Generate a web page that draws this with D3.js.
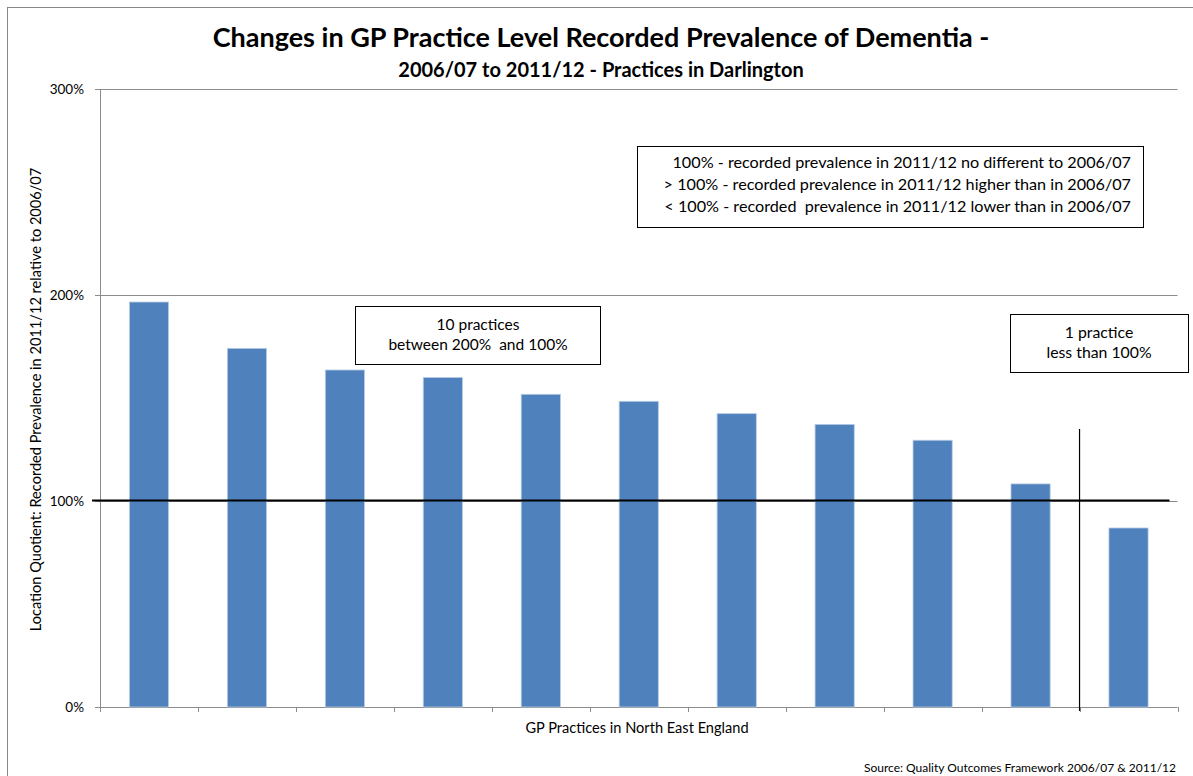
<!DOCTYPE html>
<html>
<head>
<meta charset="utf-8">
<script src="https://cdn.jsdelivr.net/npm/d3@7"></script>
<style>
  body { margin: 0; background: #fff; }
  svg text { font-family: Lato, "Open Sans", sans-serif; fill: #000; }
</style>
</head>
<body>
<div class="chart"></div>
<script>
// practices in Darlington, sorted by change (% of 2006/07)
var practices = ['P1', 'P2', 'P3', 'P4', 'P5', 'P6', 'P7', 'P8', 'P9', 'P10', 'P11'];
var quotients = [196.6, 174.1, 163.6, 160.0, 151.8, 148.4, 142.4, 137.2, 129.5, 108.3, 86.9];
var yTicks = [0, 100, 200, 300];
var legendLines = [
  '100% - recorded prevalence in 2011/12 no different to 2006/07',
  '> 100% - recorded prevalence in 2011/12 higher than in 2006/07',
  '< 100% - recorded  prevalence in 2011/12 lower than in 2006/07'
];

var W = 1193, H = 776;
var margin = {top: 89, right: 15.5, bottom: 69, left: 100},
    width = W - margin.left - margin.right,
    height = H - margin.top - margin.bottom;

var svg = d3.select('.chart')
  .append('svg')
    .attr('width', W)
    .attr('height', H);

// outer chart frame
svg.append('rect')
    .attr('x', 7.5).attr('y', 7.5)
    .attr('width', 1200).attr('height', 800)
    .attr('fill', 'none')
    .attr('stroke', '#888');

var x = d3.scaleBand()
    .domain(practices)
    .range([0, width])
    .paddingInner(0.6)
    .paddingOuter(0.3);

var y = d3.scaleLinear()
    .domain([0, 300])
    .range([height, 0]);

var graph = svg.append('g')
    .attr('transform', 'translate(' + margin.left + ',' + margin.top + ')');

// gridlines
graph.selectAll('.grid')
  .data(yTicks.filter(function(d) { return d > 0; }))
  .enter().append('line')
    .attr('x1', 0).attr('x2', width)
    .attr('y1', function(d) { return Math.round(y(d)) + 0.5; })
    .attr('y2', function(d) { return Math.round(y(d)) + 0.5; })
    .attr('stroke', '#8c8c8c');

// y axis
var yAx = graph.append('g')
    .call(d3.axisLeft(y).tickValues(yTicks).tickSize(5).tickFormat(function(d) { return d + '%'; }));
yAx.select('.domain').attr('stroke', '#8c8c8c');
yAx.selectAll('line').attr('stroke', '#8c8c8c');
yAx.selectAll('text').attr('font-size', 13.5).attr('x', -16).attr('dy', '0.35em');

// x axis with ticks on band boundaries
var xAx = graph.append('g').attr('transform', 'translate(0,' + height + ')');
xAx.append('line')
    .attr('x1', 0).attr('x2', width)
    .attr('y1', 0.5).attr('y2', 0.5)
    .attr('stroke', '#8c8c8c');
var edges = d3.range(practices.length + 1).map(function(i) { return i * x.step() * (width / (x.step() * practices.length)); });
xAx.selectAll('.tick')
  .data(edges)
  .enter().append('line')
    .attr('x1', function(d) { return Math.round(d) + 0.5; })
    .attr('x2', function(d) { return Math.round(d) + 0.5; })
    .attr('y1', 0).attr('y2', 5)
    .attr('stroke', '#8c8c8c');

// bars
graph.selectAll('.bar')
  .data(quotients)
  .enter().append('rect')
    .attr('class', 'bar')
    .attr('x', function(d, i) { return x(practices[i]); })
    .attr('y', function(d) { return y(d); })
    .attr('width', x.bandwidth())
    .attr('height', function(d) { return height - y(d); })
    .attr('fill', '#4f81bd')
    .attr('stroke', '#b9cde5')
    .attr('stroke-width', 0.8);

// 100% reference line
graph.append('line')
    .attr('x1', -8).attr('x2', width - 8)
    .attr('y1', y(100) - 0.5).attr('y2', y(100) - 0.5)
    .attr('stroke', '#000')
    .attr('stroke-width', 2.2);

// divider between practices above and below 100%
var divX = edges[practices.length - 1];
graph.append('line')
    .attr('x1', divX).attr('x2', divX)
    .attr('y1', y(135)).attr('y2', height + 4)
    .attr('stroke', '#000')
    .attr('stroke-width', 1.2);

// titles
svg.append('text')
    .attr('x', 601).attr('y', 47)
    .attr('text-anchor', 'middle')
    .attr('font-size', 27)
    .attr('font-weight', 'bold')
    .text('Changes in GP Practice Level Recorded Prevalence of Dementia -');
svg.append('text')
    .attr('x', 601).attr('y', 77)
    .attr('text-anchor', 'middle')
    .attr('font-size', 20)
    .attr('font-weight', 'bold')
    .text('2006/07 to 2011/12 - Practices in Darlington');

// axis titles
svg.append('text')
    .attr('transform', 'translate(41,' + 399.5 + ') rotate(-90)')
    .attr('text-anchor', 'middle')
    .attr('font-size', 14.6)
    .text('Location Quotient: Recorded Prevalence in 2011/12 relative to 2006/07');
svg.append('text')
    .attr('x', 637).attr('y', 733)
    .attr('text-anchor', 'middle')
    .attr('font-size', 14.6)
    .text('GP Practices in North East England');
svg.append('text')
    .attr('x', 1176).attr('y', 772)
    .attr('text-anchor', 'end')
    .attr('font-size', 12)
    .text('Source:  Quality Outcomes Framework 2006/07 & 2011/12');

// annotation boxes
function note(bx, by, bw, bh, lines, anchor, tx, baselines, size) {
  var g = svg.append('g');
  g.append('rect')
      .attr('x', bx + 0.5).attr('y', by + 0.5)
      .attr('width', bw).attr('height', bh)
      .attr('fill', '#fff')
      .attr('stroke', '#000');
  g.selectAll('text')
    .data(lines)
    .enter().append('text')
      .attr('x', tx)
      .attr('y', function(d, i) { return baselines[i]; })
      .attr('text-anchor', anchor)
      .attr('font-size', size)
      .attr('xml:space', 'preserve')
      .text(function(d) { return d; });
}

note(637, 146, 506, 81, legendLines, 'end', 1131, [168, 190, 212], 16.2);
note(355, 306, 245, 58, ['10 practices', 'between 200%  and 100%'], 'middle', 478, [330, 350], 15.5);
note(1010, 314, 178, 58, ['1 practice', 'less than 100%'], 'middle', 1099, [338, 358], 15.8);
</script>
</body>
</html>
